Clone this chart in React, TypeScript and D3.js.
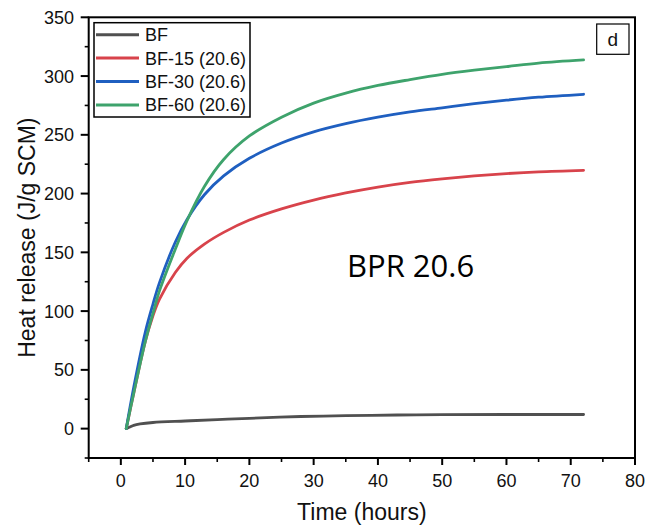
import React from "react";
import * as d3 from "d3";

const timeBF = [0.84, 1.5, 2, 3, 5, 10, 15, 20, 28, 35, 43, 50, 60, 72];
const valBF = [0, 1.6, 2.8, 4, 5.2, 6.5, 7.7, 8.8, 10.3, 11, 11.6, 11.9, 12, 12];

const timeMain = [0.84, 2, 3.8, 5, 6, 8.5, 10.3, 13, 16, 20, 25, 30, 35, 40, 45, 50, 55, 60, 65, 72];
const valBF15 = [0, 30, 74, 96, 110, 133, 145, 157, 167, 177.5, 187, 194.5, 200.5, 205.5, 209.5, 212.5, 215, 217, 218.5, 219.8];
const valBF30 = [0, 35, 82, 106, 124, 159, 178, 199, 215, 230, 243, 252.5, 259.5, 265, 269.5, 273, 276.5, 279.5, 282, 284.5];
const valBF60 = [0, 30, 74, 98, 117, 153, 177, 206, 229, 249, 265, 277, 285.5, 292, 297, 301.5, 305, 308, 311, 313.7];

const seriesNames = ["BF", "BF-15 (20.6)", "BF-30 (20.6)", "BF-60 (20.6)"];
const seriesColors = ["#505050", "#d8434b", "#1f5fc0", "#3ea36c"];

const xMajor = [0, 10, 20, 30, 40, 50, 60, 70, 80];
const xMinor = [-5, 5, 15, 25, 35, 45, 55, 65, 75];
const yMajor = [0, 50, 100, 150, 200, 250, 300, 350];
const yMinor = [-25, 25, 75, 125, 175, 225, 275, 325];

const FONT = "Arial, 'Liberation Sans', sans-serif";

export default function App() {
  const x = d3.scaleLinear().domain([-5, 80]).range([88.7, 635]);
  const y = d3.scaleLinear().domain([-25, 350]).range([458, 17.3]);

  const line = d3
    .line<[number, number]>()
    .x((d) => x(d[0]))
    .y((d) => y(d[1]))
    .curve(d3.curveCatmullRom.alpha(0.5));

  const series = [
    timeBF.map((t, i) => [t, valBF[i]] as [number, number]),
    timeMain.map((t, i) => [t, valBF15[i]] as [number, number]),
    timeMain.map((t, i) => [t, valBF30[i]] as [number, number]),
    timeMain.map((t, i) => [t, valBF60[i]] as [number, number]),
  ];

  const [x0, x1] = x.range();
  const [yb, yt] = y.range();

  return (
    <svg
      width={646}
      height={527}
      style={{ position: "absolute", left: 0, top: 0, background: "#fff" }}
      fontFamily={FONT}
    >
      <rect x={0} y={0} width={646} height={527} fill="#fff" />
      {series.map((s, i) => (
        <path
          key={i}
          d={line(s) || ""}
          fill="none"
          stroke={seriesColors[i]}
          strokeWidth={2.8}
          strokeLinejoin="round"
          strokeLinecap="round"
        />
      ))}
      <rect x={x0} y={yt} width={x1 - x0} height={yb - yt} fill="none" stroke="#000" strokeWidth={2} />
      {xMajor.map((v) => (
        <g key={"xM" + v}>
          <line x1={x(v)} x2={x(v)} y1={yb} y2={yb + 7} stroke="#000" strokeWidth={2} />
          <text x={x(v)} y={487} textAnchor="middle" fontSize={18} fill="#111">
            {v}
          </text>
        </g>
      ))}
      {xMinor.map((v) => (
        <line key={"xm" + v} x1={x(v)} x2={x(v)} y1={yb} y2={yb + 4} stroke="#000" strokeWidth={1.6} />
      ))}
      {yMajor.map((v) => (
        <g key={"yM" + v}>
          <line x1={x0 - 8} x2={x0} y1={y(v)} y2={y(v)} stroke="#000" strokeWidth={2} />
          <text x={74} y={y(v) + 6.5} textAnchor="end" fontSize={18} fill="#111">
            {v}
          </text>
        </g>
      ))}
      {yMinor.map((v) => (
        <line key={"ym" + v} x1={x0 - 4} x2={x0} y1={y(v)} y2={y(v)} stroke="#000" strokeWidth={1.6} />
      ))}
      <text x={(x0 + x1) / 2} y={520} textAnchor="middle" fontSize={23} fill="#111">
        Time (hours)
      </text>
      <text
        transform={`translate(35,${(yb + yt) / 2}) rotate(-90)`}
        textAnchor="middle"
        fontSize={23}
        fill="#111"
      >
        Heat release (J/g SCM)
      </text>
      <rect x={94} y={22.7} width={156} height={94.3} fill="#fff" stroke="#000" strokeWidth={1.5} />
      {seriesNames.map((n, i) => {
        const ly = 34.7 + i * 23.4;
        return (
          <g key={n}>
            <line x1={96} x2={139} y1={ly} y2={ly} stroke={seriesColors[i]} strokeWidth={3} />
            <text x={145} y={ly + 6.5} fontSize={18} fill="#111">
              {n}
            </text>
          </g>
        );
      })}
      <rect x={596.7} y={24} width={32.3} height={30.3} fill="#fff" stroke="#000" strokeWidth={1.2} />
      <text x={612.8} y={46} textAnchor="middle" fontSize={19} fill="#111">
        d
      </text>
      <text x={347} y={277} fontSize={31} fontFamily="'Open Sans', 'Noto Sans', sans-serif" fill="#000">
        BPR 20.6
      </text>
    </svg>
  );
}
